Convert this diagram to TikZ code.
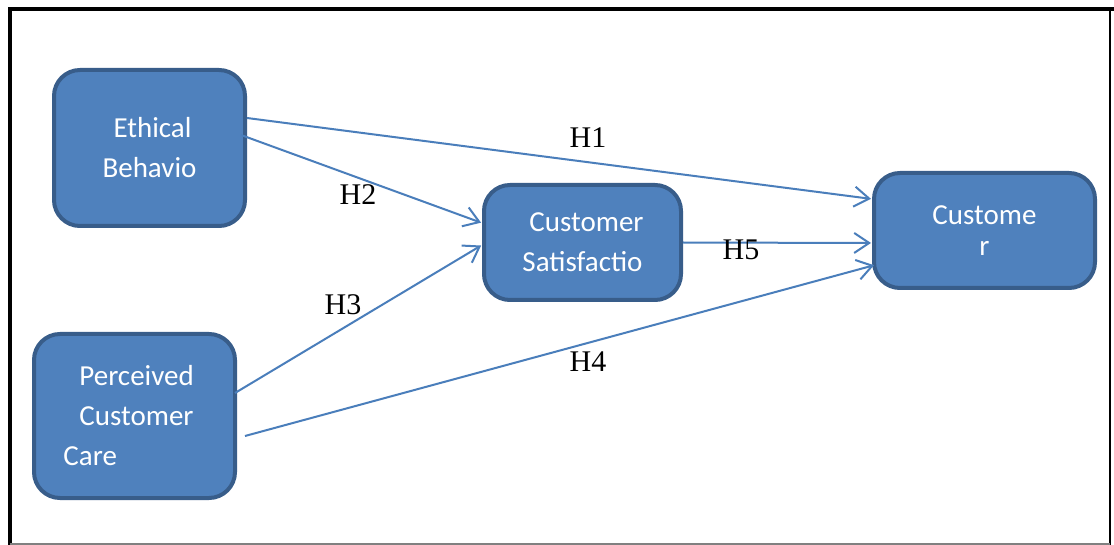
\documentclass[tikz,border=0pt]{standalone}
\usepackage{fontspec}
\setmainfont{Liberation Serif}
\newfontfamily\boxfont{Carlito}
\usetikzlibrary{arrows.meta}

\definecolor{boxfill}{HTML}{4F81BD}
\definecolor{boxline}{HTML}{385D8A}
\definecolor{linkblue}{HTML}{4A7EBB}

\begin{document}
\begin{tikzpicture}[
    x=1pt,
    y=-1pt,
    construct/.style={
      draw=boxline,
      fill=boxfill,
      line width=4pt,
      rounded corners=26pt,
      align=center,
      text=white,
      inner sep=0pt,
      font=\boxfont\fontsize{29}{40}\selectfont
    },
    hyp/.style={
      font=\fontsize{30}{32}\selectfont,
      inner sep=0pt
    },
    link/.style={
      draw=linkblue,
      line width=2pt,
      -{Straight Barb[length=15pt,width=20pt,line width=2pt]},
      shorten >=1pt
    }
  ]

    % --- Canvas and frame
    \useasboundingbox (0,0) rectangle (1114,545);
    \fill[white] (0,0) rectangle (1114,545);
    \draw[black, line width=3.5pt] (10,546) -- (10,9) -- (1114,9);
    \draw[black, line width=2pt] (1110,9) -- (1110,545);
    \draw[gray, line width=1.5pt] (10,544) -- (1110,544);

    % --- Constructs
    \node[construct, minimum width=191pt, minimum height=156pt] (ebeh) at (149.5,148)
      {\hspace*{6pt}Ethical\\Behavio};
    \node[construct, minimum width=201pt, minimum height=164pt, align=left] (pcare) at (134.5,416)
      {\hspace*{16pt}Perceived\\\hspace*{16pt}Customer\hspace*{12pt}\mbox{}\\Care};
    \node[construct, minimum width=197pt, minimum height=115pt] (csat) at (582.5,242.5)
      {\hspace*{8pt}Customer\\Satisfactio};
    \node[construct, minimum width=221pt, minimum height=115pt,
          font=\boxfont\fontsize{29}{31}\selectfont] (cloy) at (984.5,230.5)
      {Custome\\r};

    % --- Hypothesised paths
    \draw[link] ([yshift=30pt]ebeh.east) -- ([yshift=31.5pt]cloy.west);
    \draw[link] ([xshift=-6pt,yshift=13pt]ebeh.east) -- ([yshift=19.5pt]csat.west);
    \draw[link] ([xshift=-2pt,yshift=23pt]pcare.east) -- ([yshift=-2.5pt]csat.west);
    \draw[link] ([xshift=8pt,yshift=-20pt]pcare.east) -- ([xshift=3pt,yshift=-34.5pt]cloy.west);
    \draw[link] (csat.east) -- ([yshift=-12.5pt]cloy.west);

    % --- Path labels
    \node[hyp] (h1) at (588,138) {H1};
    \node[hyp] (h2) at (358,195) {H2};
    \node[hyp] (h3) at (343,305) {H3};
    \node[hyp] (h4) at (588,362) {H4};
    \node[hyp] (h5) at (741,250) {H5};

\end{tikzpicture}
\end{document}
